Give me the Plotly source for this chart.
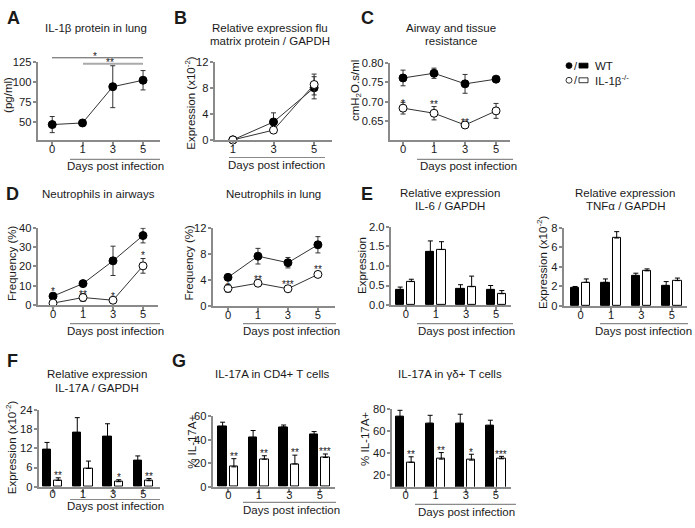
import plotly.graph_objects as go

W, H = 695, 528
FONT = "Liberation Sans, Arial, sans-serif"
TXT = "#1a1a1a"
AX = "#8a8a8a"

# ---------------- data ----------------
days = ["0", "1", "3", "5"]
days_b = ["1", "3", "5"]

A_wt = [47, 49, 94, 102]
A_wt_err = [10, 2, 26, 12]

B_wt = [0, 2.75, 8.0]
B_wt_err = [0, 1.4, 1.7]
B_ko = [0, 1.5, 8.5]
B_ko_err = [0, 0.2, 1.6]

C_wt = [0.761, 0.773, 0.746, 0.758]
C_wt_err = [0.020, 0.013, 0.024, 0.002]
C_ko = [0.684, 0.671, 0.641, 0.677]
C_ko_err = [0.015, 0.017, 0.004, 0.019]

Dair_wt = [4.6, 11.1, 22.9, 36.0]
Dair_wt_err = [1.0, 0.6, 7.6, 3.8]
Dair_ko = [1.0, 3.9, 2.5, 20.3]
Dair_ko_err = [0.4, 2.0, 0.4, 3.8]

Dlung_wt = [4.4, 7.65, 6.65, 9.4]
Dlung_wt_err = [0.3, 1.2, 0.8, 1.25]
Dlung_ko = [2.7, 3.5, 2.65, 4.85]
Dlung_ko_err = [0.6, 0.5, 0.2, 0.2]

IL6_wt = [0.39, 1.37, 0.41, 0.38]
IL6_wt_err = [0.07, 0.27, 0.11, 0.12]
IL6_ko = [0.60, 1.42, 0.47, 0.29]
IL6_ko_err = [0.06, 0.20, 0.27, 0.08]

TNF_wt = [1.85, 2.42, 3.1, 2.08]
TNF_wt_err = [0.15, 0.35, 0.26, 0.42]
TNF_ko = [2.42, 6.96, 3.6, 2.6]
TNF_ko_err = [0.35, 0.65, 0.2, 0.26]

F_wt = [11.5, 16.8, 15.6, 8.0]
F_wt_err = [2.3, 4.7, 4.0, 1.6]
F_ko = [2.0, 5.7, 1.6, 1.9]
F_ko_err = [0.8, 2.3, 0.6, 0.7]

CD4_wt = [51.5, 42, 51, 44.5]
CD4_wt_err = [3.6, 6, 1.7, 2.6]
CD4_ko = [17, 23.5, 19.5, 25]
CD4_ko_err = [7, 3, 7.5, 3]

GD_wt = [72.7, 66.8, 66.8, 64.5]
GD_wt_err = [5.8, 7.2, 8.2, 5.1]
GD_ko = [31.7, 34.6, 33.7, 34.9]
GD_ko_err = [5.0, 5.9, 5.3, 2.2]

# ---------------- helpers ----------------
def px(x):
    return x / W


def py(y):
    return 1 - y / H


fig = go.Figure()
layout = dict(
    width=W, height=H, autosize=False,
    margin=dict(l=0, r=0, t=0, b=0),
    paper_bgcolor="white", plot_bgcolor="white",
    showlegend=False,
    font=dict(family=FONT, size=11.5, color=TXT),
    bargap=0, barmode="overlay",
)
annotations = []
shapes = []
TICKF = dict(size=11.2, color=TXT)


def add_axes(i, x0, x1, top, bot, xr, yr, xtv, xtt, ytv, yfmt=None, xstand=-6):
    sx = "" if i == 1 else str(i)
    layout["xaxis" + sx] = dict(
        domain=[px(x0), px(x1)], range=xr, anchor="y" + sx,
        showline=True, linecolor=AX, linewidth=1.5, mirror=False,
        showgrid=False, zeroline=False, ticks="outside", ticklen=4,
        tickwidth=1.5, tickcolor=AX, tickvals=xtv, ticktext=xtt,
        tickfont=TICKF, fixedrange=True, ticklabelstandoff=xstand,
    )
    yd = dict(
        domain=[py(bot), py(top)], range=yr, anchor="x" + sx,
        showline=True, linecolor=AX, linewidth=1.5,
        showgrid=False, zeroline=False, ticks="outside", ticklen=3.5,
        tickwidth=1.5, tickcolor=AX, tickvals=ytv,
        tickfont=TICKF, fixedrange=True, ticklabelstandoff=-1,
    )
    if yfmt:
        yd["tickformat"] = yfmt
    layout["yaxis" + sx] = yd
    return "x" + sx, "y" + sx


def text(t, x, y, size=11.5, bold=False, angle=0, xanchor="center"):
    if bold:
        t = "<b>" + t + "</b>"
    annotations.append(dict(
        text=t, x=px(x), y=py(y), xref="paper", yref="paper",
        xanchor=xanchor, yanchor="middle", showarrow=False,
        textangle=angle, font=dict(family=FONT, size=size, color=TXT),
    ))


def hline(x0, x1, y, color=AX, w=1.2):
    shapes.append(dict(type="line", xref="paper", yref="paper",
                       x0=px(x0), x1=px(x1), y0=py(y), y1=py(y),
                       line=dict(color=color, width=w)))


def star(t, xa, ya, x, y):
    annotations.append(dict(
        text=t, x=x, y=y, xref=xa, yref=ya, xanchor="center",
        yanchor="middle", showarrow=False, yshift=-3,
        font=dict(family=FONT, size=10, color=TXT),
    ))


def line_series(xa, ya, xs, vals, errs, filled):
    fig.add_trace(go.Scatter(
        x=xs, y=vals, xaxis=xa, yaxis=ya, mode="lines+markers",
        line=dict(color="#333333", width=1),
        marker=dict(size=8, color="black" if filled else "white",
                    line=dict(color="black", width=1)),
        error_y=dict(type="data", array=errs, color="#333333",
                     thickness=1, width=2.5),
        cliponaxis=False,
    ))


def bar_series(xa, ya, xs, vals, errs, filled):
    fig.add_trace(go.Bar(
        x=xs, y=vals, xaxis=xa, yaxis=ya,
        width=0.27, offset=-0.32 if filled else 0.05,
        marker=dict(color="black" if filled else "white",
                    line=dict(color="black", width=1)),
        error_y=dict(type="data", array=errs, arrayminus=[0] * len(errs),
                     symmetric=False, color="black", thickness=1, width=2.5),
    ))


pos4 = [0, 1, 2, 3]
pos3 = [0, 1, 2]

# ---------------- A ----------------
xa, ya = add_axes(1, 38, 160, 57, 137, [-0.47, 3.56], [28, 125], pos4, days,
                  [50, 75, 100, 125])
line_series(xa, ya, pos4, A_wt, A_wt_err, True)
hline(52, 143, 53, color="#555555", w=1)
hline(83, 143, 59, color="#aaaaaa", w=2)
text("*", 95, 52, size=10)
text("**", 110, 58, size=10)
text("A", 13, 12, size=18, bold=True)
text("IL-1β protein in lung", 96, 23)
text("(pg/ml)", 8, 91, angle=-90)
hline(70, 160, 157)
text("Days post infection", 115, 164)

# ---------------- B ----------------
xa, ya = add_axes(2, 215, 332, 57, 137, [-0.44, 2.44], [0, 12], pos3, days_b,
                  [0, 4, 8, 12])
line_series(xa, ya, pos3, B_wt, B_wt_err, True)
line_series(xa, ya, pos3, B_ko, B_ko_err, False)
text("B", 180, 12, size=18, bold=True)
text("Relative expression flu", 270, 22.5)
text("matrix protein / GAPDH", 270, 36)
text("Expression (x10<sup>-2</sup>)", 190, 99, angle=-90)
hline(229, 325, 155)
text("Days post infection", 276, 163)

# ---------------- C ----------------
xa, ya = add_axes(3, 390, 510, 58, 137, [-0.42, 3.45], [0.603, 0.80], pos4, days,
                  [0.65, 0.70, 0.75, 0.80], yfmt=".2f")
line_series(xa, ya, pos4, C_wt, C_wt_err, True)
line_series(xa, ya, pos4, C_ko, C_ko_err, False)
star("*", xa, ya, 0, 0.703)
star("**", xa, ya, 1, 0.702)
star("**", xa, ya, 2, 0.655)
text("C", 367, 12, size=18, bold=True)
text("Airway and tissue", 451, 22.5)
text("resistance", 451, 36)
text("cmH<sub>2</sub>O.s/ml", 356, 86, angle=-90)
hline(417, 513, 157)
text("Days post infection", 468, 164)

# legend
shapes.append(dict(type="circle", xref="paper", yref="paper",
                   x0=px(566), x1=px(572), y0=py(64), y1=py(58),
                   fillcolor="black", line=dict(color="black", width=0.8)))
shapes.append(dict(type="rect", xref="paper", yref="paper",
                   x0=px(579), x1=px(588), y0=py(63.5), y1=py(58.5),
                   fillcolor="black", line=dict(color="black", width=0.8)))
shapes.append(dict(type="circle", xref="paper", yref="paper",
                   x0=px(566), x1=px(572), y0=py(79), y1=py(73),
                   fillcolor="white", line=dict(color="black", width=0.8)))
shapes.append(dict(type="rect", xref="paper", yref="paper",
                   x0=px(579), x1=px(588), y0=py(78.5), y1=py(73.5),
                   fillcolor="white", line=dict(color="black", width=0.8)))
text("/", 575.5, 61, size=11)
text("/", 575.5, 76, size=11)
text("WT", 593, 61, size=11.5, xanchor="left")
text("IL-1β<sup>-/-</sup>", 593, 76, size=11.5, xanchor="left")

# ---------------- D airways ----------------
xa, ya = add_axes(4, 38, 158, 227, 306, [-0.5, 3.5], [0, 40], pos4, days,
                  [0, 10, 20, 30, 40])
line_series(xa, ya, pos4, Dair_wt, Dair_wt_err, True)
line_series(xa, ya, pos4, Dair_ko, Dair_ko_err, False)
star("*", xa, ya, 0, 8.6)
star("**", xa, ya, 1, 7.2)
star("*", xa, ya, 2, 6.2)
star("*", xa, ya, 3, 27.0)
text("D", 12.5, 192.5, size=18, bold=True)
text("Neutrophils in airways", 98, 192)
text("Frequency (%)", 12, 263, angle=-90)
hline(70, 160, 325)
text("Days post infection", 115, 333)

# ---------------- D lung ----------------
xa, ya = add_axes(5, 213, 335, 227, 307, [-0.5, 3.57], [0, 12], pos4, days,
                  [0, 4, 8, 12])
line_series(xa, ya, pos4, Dlung_wt, Dlung_wt_err, True)
line_series(xa, ya, pos4, Dlung_ko, Dlung_ko_err, False)
star("*", xa, ya, 0, 3.5)
star("**", xa, ya, 1, 4.6)
star("***", xa, ya, 2, 3.7)
star("**", xa, ya, 3, 6.1)
text("Neutrophils in lung", 273, 192)
text("Frequency (%)", 189.5, 263, angle=-90)
hline(243, 336, 325)
text("Days post infection", 291, 333)

# ---------------- E IL-6 ----------------
xa, ya = add_axes(6, 391, 511, 226, 306, [-0.49, 3.49], [0, 2], pos4, days,
                  [0, 0.5, 1.0, 1.5, 2.0], yfmt=".1f")
bar_series(xa, ya, pos4, IL6_wt, IL6_wt_err, True)
bar_series(xa, ya, pos4, IL6_ko, IL6_ko_err, False)
text("E", 367, 192.5, size=18, bold=True)
text("Relative expression", 450, 191.5)
text("IL-6 / GAPDH", 450, 205)
text("Expression", 362, 266, angle=-90)
hline(417, 513, 325)
text("Days post infection", 466, 333)

# ---------------- E TNF ----------------
xa, ya = add_axes(7, 564, 687, 227, 307, [-0.55, 3.5], [0, 8], pos4, days,
                  [0, 2, 4, 6, 8])
bar_series(xa, ya, pos4, TNF_wt, TNF_wt_err, True)
bar_series(xa, ya, pos4, TNF_ko, TNF_ko_err, False)
star("***", xa, ya, 1.18, 8.1)
text("Relative expression", 625, 191.5)
text("TNFα / GAPDH", 625, 205)
text("Expression (x10<sup>-2</sup>)", 542, 262, angle=-90)
hline(600, 688, 325)
text("Days post infection", 643, 333)

# ---------------- F ----------------
xa, ya = add_axes(8, 39, 160, 413, 492, [-0.45, 3.55], [0, 24], pos4, days,
                  [0, 6, 12, 18, 24], xstand=-8)
bar_series(xa, ya, pos4, F_wt, F_wt_err, True)
bar_series(xa, ya, pos4, F_ko, F_ko_err, False)
for i, t in [(0, "**"), (2, "*"), (3, "**")]:
    star(t, xa, ya, i + 0.18, F_ko[i] + F_ko_err[i] + 1.6)
text("F", 12, 363, size=18, bold=True)
text("Relative expression", 97, 377)
text("IL-17A / GAPDH", 97, 391)
text("Expression (x10<sup>-2</sup>)", 10.5, 452, angle=-90)
hline(70, 160, 505)
text("Days post infection", 115, 512)

# ---------------- G CD4 ----------------
xa, ya = add_axes(9, 213, 335, 420, 492, [-0.5, 3.5], [0, 60], pos4, days,
                  [0, 20, 40, 60], xstand=-7)
bar_series(xa, ya, pos4, CD4_wt, CD4_wt_err, True)
bar_series(xa, ya, pos4, CD4_ko, CD4_ko_err, False)
for i, t in enumerate(["**", "**", "**", "***"]):
    star(t, xa, ya, i + 0.18, CD4_ko[i] + CD4_ko_err[i] + 4.5)
text("G", 179, 363, size=18, bold=True)
text("IL-17A in CD4+ T cells", 272, 377)
text("% IL-17A+", 192, 446, angle=-90)
hline(243, 336, 508)
text("Days post infection", 291, 516)

# ---------------- G gd ----------------
xa, ya = add_axes(10, 392, 511, 412, 492, [-0.45, 3.5], [9.7, 80], pos4, days,
                  [20, 40, 60, 80], xstand=-7)
bar_series(xa, ya, pos4, GD_wt, GD_wt_err, True)
bar_series(xa, ya, pos4, GD_ko, GD_ko_err, False)
for i, t in enumerate(["**", "**", "*", "***"]):
    star(t, xa, ya, i + 0.18, GD_ko[i] + GD_ko_err[i] + 4.5)
text("IL-17A in γδ+ T cells", 450, 377)
text("% IL-17A+", 365, 443, angle=-90)
hline(415, 516, 510)
text("Days post infection", 466, 518)

layout["annotations"] = annotations
layout["shapes"] = shapes
fig.update_layout(**layout)
fig.write_html(
    "out.html",
    config={"displayModeBar": False},
    post_script="document.body.style.margin='0';document.body.style.overflow='hidden';",
)
